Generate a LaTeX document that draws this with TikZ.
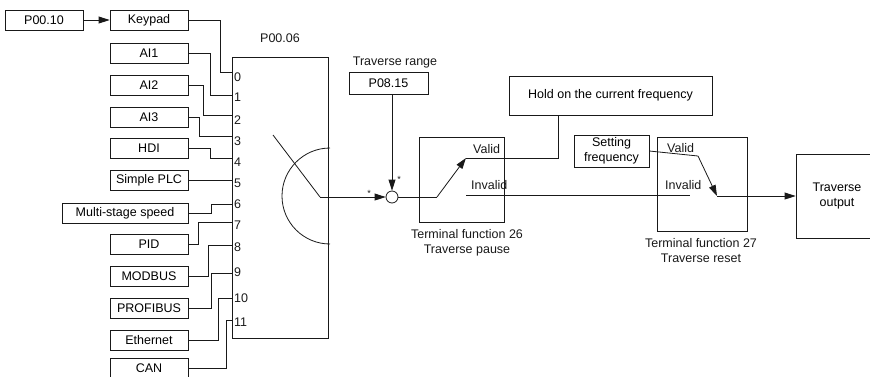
\documentclass[tikz,border=0pt]{standalone}
\usepackage{fontspec}
\setmainfont{Liberation Sans}
\usepackage{tikz}
\usetikzlibrary{arrows.meta, positioning, calc}
\definecolor{mydark}{RGB}{25,25,25}
\newcommand{\lblfont}{\fontsize{12.5}{15}\selectfont}
\newcommand{\starfont}{\fontsize{9}{10}\selectfont}
\tikzset{
  srcbox/.style={rectangle, draw=mydark, minimum width=78pt,
    minimum height=20pt, inner sep=1pt, font=\lblfont, line width=0.8pt},
  bigbox/.style={rectangle, draw=mydark, inner sep=0pt,
    font=\lblfont, align=center, line width=0.8pt},
  txt/.style={inner sep=0pt, font=\lblfont, align=center, color=mydark},
  sumjunc/.style={circle, draw=mydark, minimum size=12pt,
    inner sep=0pt, line width=0.8pt},
  arrow/.style={-{Triangle[length=11pt, width=7pt]}, line width=0.8pt, color=mydark},
  line/.style={line width=0.8pt, color=mydark}
}

\begin{document}
\begin{tikzpicture}[x=1pt, y=-1pt]
  \useasboundingbox (0,0) rectangle (870,376);
  \node[srcbox] (p0010) at (44,20) {P00.10};
  \node[srcbox] (keypad) at (149,20) {Keypad};
  \node[srcbox] (ai1) at (149,53) {AI1};
  \node[srcbox] (ai2) at (149,85) {AI2};
  \node[srcbox] (ai3) at (149,117) {AI3};
  \node[srcbox] (hdi) at (149,148) {HDI};
  \node[srcbox] (plc) at (149,180) {Simple PLC};
  \node[srcbox, minimum width=126pt] (multi) at (125,213) {Multi-stage speed};
  \node[srcbox] (pid) at (149,244) {PID};
  \node[srcbox] (modbus) at (149,276) {MODBUS};
  \node[srcbox] (profibus) at (149,308) {PROFIBUS};
  \node[srcbox] (ethernet) at (149,340) {Ethernet};
  \node[srcbox] (can) at (149,368) {CAN};
  \node[bigbox, minimum width=96pt, minimum height=281pt,
    label={[txt, label distance=14pt]above:P00.06}] (sel) at (280,197.5) {};
  \foreach \n/\ly/\ny in {0/72/77, 1/95/97, 2/115/120, 3/136/141, 4/158/162,
      5/180/183, 6/204/204, 7/222/225, 8/245/247, 9/273/272, 10/298/298, 11/320/322} {
    \coordinate (port\n) at (232,\ly);
    \node[txt, anchor=west] (num\n) at (234,\ny) {\n};
  }
  \draw[arrow] (p0010) -- (keypad);
  \foreach \src/\n/\dx in {keypad/0/32, ai1/1/22, ai2/2/15, ai3/3/11, hdi/4/22,
      plc/5/0, multi/6/23, pid/7/10, modbus/8/20, profibus/9/23, ethernet/10/30, can/11/38}
    \draw[line] (\src.east) -- ++(\dx,0) |- (port\n);

  \coordinate (knife) at (273,135);
  \coordinate (pivot) at (320,197);
  \draw[line] (knife) -- (pivot);
  \draw[line] (330,244) arc[start angle=90, end angle=270, radius=48];
  \node[sumjunc] (sum) at (392,197) {};
  \node[txt, font=\starfont] (star1) at (369,193) {*};
  \node[txt, font=\starfont] (star2) at (399,179) {*};
  \node[txt] (rangelbl) at (395,62) {Traverse range};
  \node[srcbox, minimum width=79pt, minimum height=22pt] (range) at (388.5,83) {P08.15};
  \draw[arrow] (pivot) -- (sum);
  \draw[arrow] (range.south -| sum) -- (sum);

  \node[bigbox, minimum width=85pt, minimum height=85pt] (tf26) at (461.5,179.5) {};
  \node[txt] (tf26lbl) at (467,242.5) {Terminal function 26\\Traverse pause};
  \coordinate (sw1a) at (437,197);
  \coordinate (sw1b) at (466,158);
  \draw[line] (sum) -- (sw1a);
  \draw[arrow] (sw1a) -- (sw1b);
  \node[txt, anchor=west] (valid1) at (473,149) {Valid};
  \node[txt, anchor=west] (invalid1) at (471,185) {Invalid};
  \node[bigbox, minimum width=203pt, minimum height=39pt] (hold) at (610.5,95.5) {Hold on the current frequency};
  \draw[line] (sw1b) -| ([xshift=-52.5pt]hold.south);
  \coordinate (inv1) at (466,195);
  \coordinate (inv2) at (690,195);
  \draw[line] (inv1) -- (inv2);

  \node[bigbox, minimum width=90pt, minimum height=94pt] (tf27) at (702,184) {};
  \node[txt] (tf27lbl) at (701,250.5) {Terminal function 27\\Traverse reset};
  \node[bigbox, minimum width=75pt, minimum height=32pt] (setfreq) at (611.5,151) {Setting\\frequency};
  \node[txt, anchor=west] (valid2) at (667,148) {Valid};
  \node[txt, anchor=west] (invalid2) at (665,185) {Invalid};
  \coordinate (sw2a) at (698,156);
  \coordinate (sw2b) at (717,196);
  \draw[line] (setfreq.east) -- (sw2a);
  \draw[arrow] (sw2a) -- (sw2b);
  \node[bigbox, minimum width=82pt, minimum height=84pt] (output) at (837,196) {Traverse\\output};
  \draw[arrow] (sw2b) -- (output.west);
\end{tikzpicture}
\end{document}
